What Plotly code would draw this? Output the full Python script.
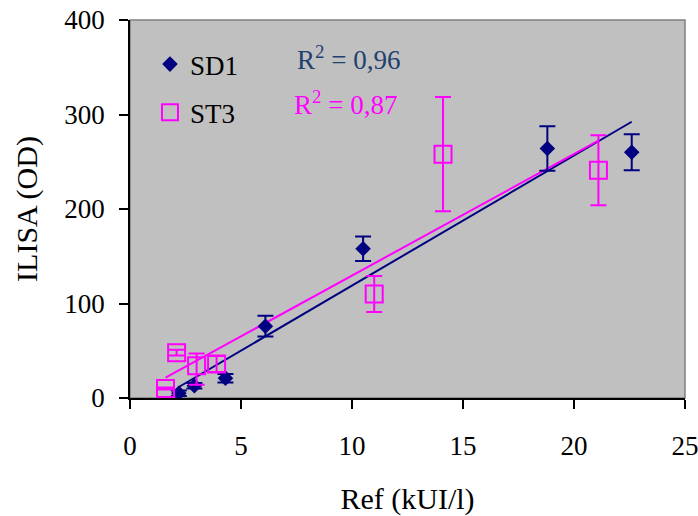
import numpy as np
import plotly.graph_objects as go

# SD1 series
sd1_x = [2.2, 2.9, 4.3, 6.1, 10.5, 18.8, 22.6]
sd1_y = [5, 13, 21, 76, 158, 264, 260]
sd1_err = [3, 3, 4.5, 11, 13, 23.5, 19]

# ST3 series
st3_x = [1.6, 2.1, 3.0, 3.9, 11.0, 14.1, 21.1]
st3_y = [10, 48, 34, 36, 110, 258, 241]
st3_err_plus = [1, 3, 13, 8.5, 19, 60.5, 37]
st3_err_minus = [1, 3, 20, 8.5, 19, 60.5, 37]

x_ticks = [0, 5, 10, 15, 20, 25]
y_ticks = [0, 100, 200, 300, 400]

r2_sd1 = "R<sup>2</sup> = 0,96"
r2_st3 = "R<sup>2</sup> = 0,87"

NAVY = "#000080"
MAG = "#FF00FF"
FONT = "Liberation Serif"
FS = 27
FT = 30

fig = go.Figure()

# trend lines
for xs, ys, col in [(sd1_x, sd1_y, NAVY), (st3_x, st3_y, MAG)]:
    m, b = np.polyfit(xs, ys, 1)
    lx = np.array([min(xs), max(xs)])
    fig.add_trace(go.Scatter(x=lx, y=m * lx + b, mode="lines",
                             line=dict(color=col, width=2), showlegend=False,
                             hoverinfo="skip"))

fig.add_trace(go.Scatter(
    x=sd1_x, y=sd1_y, mode="markers", name="SD1",
    marker=dict(symbol="diamond", size=12, color=NAVY),
    error_y=dict(type="data", array=sd1_err, color=NAVY, thickness=2, width=8),
    legendgroup="a"))

fig.add_trace(go.Scatter(
    x=st3_x, y=st3_y, mode="markers", name="ST3",
    marker=dict(symbol="square-open", size=17, color=MAG, line=dict(width=2, color=MAG)),
    error_y=dict(type="data", array=st3_err_plus, arrayminus=st3_err_minus,
                 symmetric=False, color=MAG, thickness=2, width=8),
    legendgroup="b"))

fig.add_annotation(x=0.297, y=0.899, xref="paper", yref="paper", text=r2_sd1,
                   showarrow=False, xanchor="left", yanchor="middle",
                   font=dict(family=FONT, size=FS, color="#1F4170"))
fig.add_annotation(x=0.292, y=0.78, xref="paper", yref="paper", text=r2_st3,
                   showarrow=False, xanchor="left", yanchor="middle",
                   font=dict(family=FONT, size=FS, color=MAG))

fig.add_shape(type="rect", xref="paper", yref="paper", x0=0, x1=1, y0=0, y1=1,
              line=dict(color="#808080", width=1.5), layer="below")

axis_common = dict(showgrid=False, zeroline=False, showline=True, linecolor="black",
                   linewidth=1.5, ticks="outside", ticklen=9, tickcolor="black",
                   tickwidth=1.5, automargin=False, ticklabeloverflow="allow",
                   tickfont=dict(family=FONT, size=FS, color="black"))

fig.update_xaxes(range=[0, 25], tickvals=x_ticks, ticktext=[str(v) for v in x_ticks],
                 ticklabelstandoff=14,
                 title=dict(text="Ref (kUI/l)", font=dict(family=FONT, size=FT, color="black"),
                            standoff=39),
                 **axis_common)
fig.update_yaxes(range=[0, 400], tickvals=y_ticks, ticktext=[str(v) for v in y_ticks],
                 ticklabelstandoff=9,
                 title=dict(text="ILISA (OD)", font=dict(family=FONT, size=FT, color="black"),
                            standoff=18),
                 **axis_common)

fig.update_layout(
    width=698, height=516,
    margin=dict(l=130, r=13, t=20, b=118),
    paper_bgcolor="white", plot_bgcolor="#C0C0C0",
    font=dict(family=FONT, size=FS, color="black"),
    legend=dict(x=0.036, y=0.947, xanchor="left", yanchor="top",
                bgcolor="rgba(0,0,0,0)", font=dict(family=FONT, size=FS, color="black"),
                tracegroupgap=10, traceorder="grouped"),
)

# remove the default 8px page margin so the figure fills the window exactly
fig.write_html("out.html", config={"displayModeBar": False},
               post_script="document.body.style.margin='0px';")
